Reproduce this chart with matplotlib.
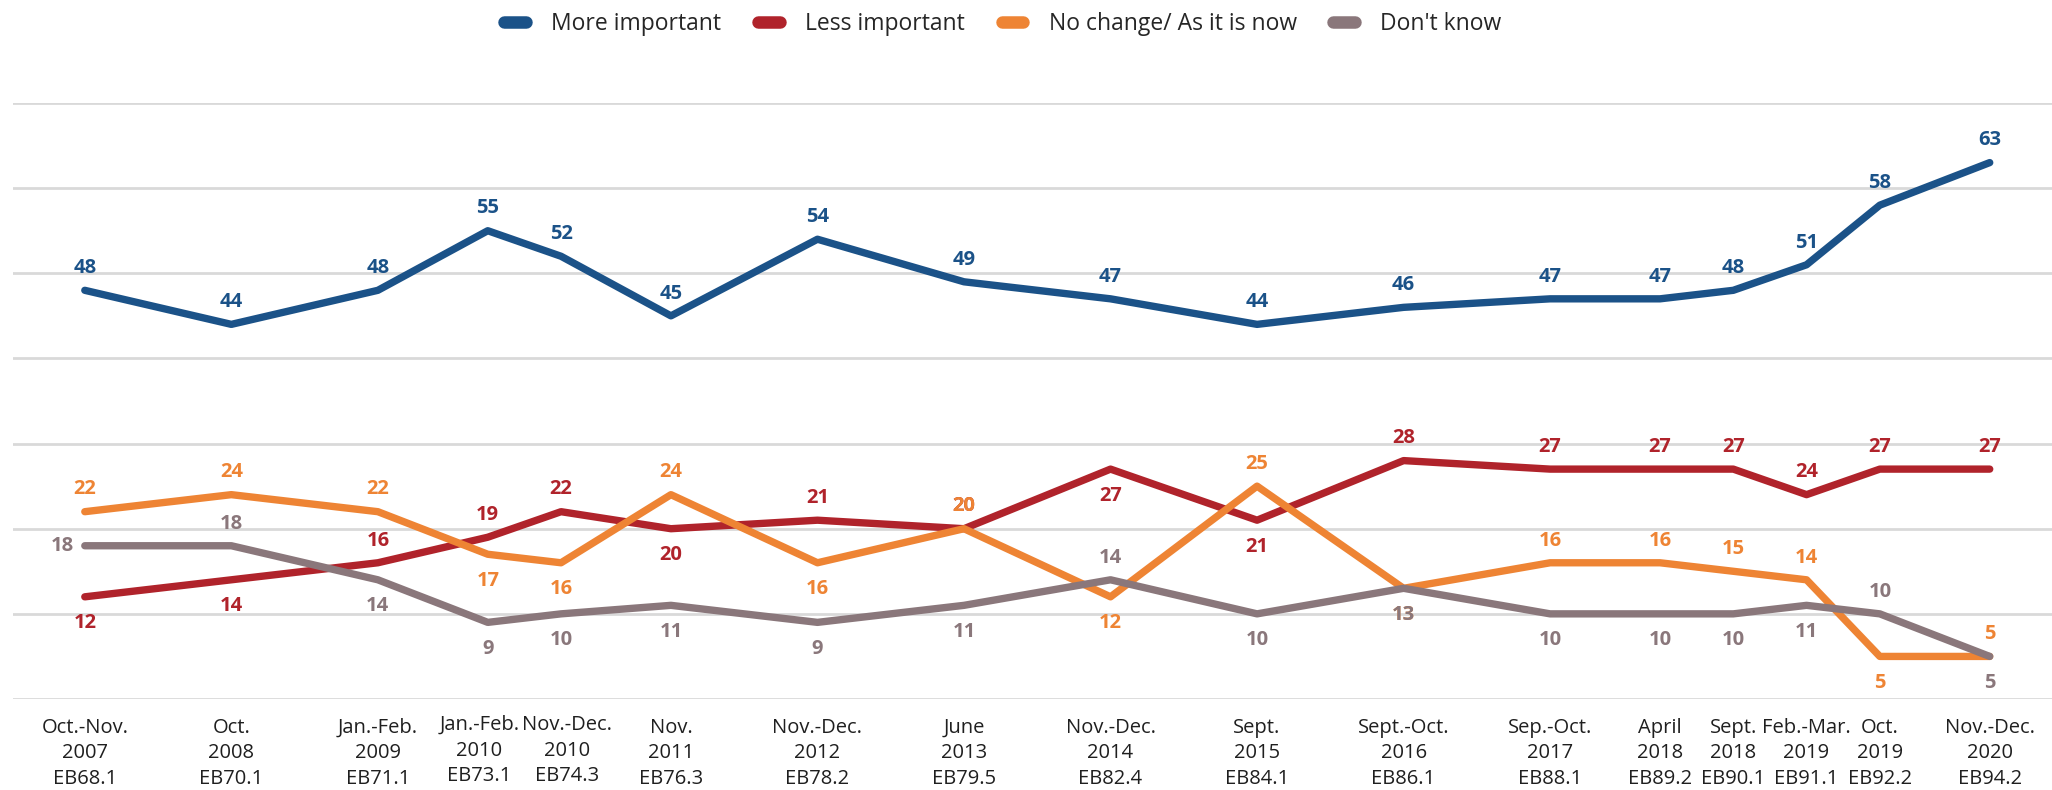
import matplotlib
matplotlib.use("Agg")
import matplotlib.pyplot as plt
import matplotlib.transforms as mtransforms
from matplotlib.lines import Line2D

plt.rcParams['font.family'] = ['Open Sans', 'DejaVu Sans']

# survey waves (x positions follow the spacing of the original chart)
waves = ["Oct.-Nov.\n2007\nEB68.1", "Oct.\n2008\nEB70.1", "Jan.-Feb.\n2009\nEB71.1",
         "Jan.-Feb.\n2010\nEB73.1", "Nov.-Dec.\n2010\nEB74.3", "Nov.\n2011\nEB76.3",
         "Nov.-Dec.\n2012\nEB78.2", "June\n2013\nEB79.5", "Nov.-Dec.\n2014\nEB82.4",
         "Sept.\n2015\nEB84.1", "Sept.-Oct.\n2016\nEB86.1", "Sep.-Oct.\n2017\nEB88.1",
         "April\n2018\nEB89.2", "Sept.\n2018\nEB90.1", "Feb.-Mar.\n2019\nEB91.1",
         "Oct.\n2019\nEB92.2", "Nov.-Dec.\n2020\nEB94.2"]
x_pos = [0, 4, 8, 11, 13, 16, 20, 24, 28, 32, 36, 40, 43, 45, 47, 49, 52]

more_important = [48, 44, 48, 55, 52, 45, 54, 49, 47, 44, 46, 47, 47, 48, 51, 58, 63]
less_important = [12, 14, 16, 19, 22, 20, 21, 20, 27, 21, 28, 27, 27, 27, 24, 27, 27]
no_change = [22, 24, 22, 17, 16, 24, 16, 20, 12, 25, 13, 16, 16, 15, 14, 5, 5]
dont_know = [18, 18, 14, 9, 10, 11, 9, 11, 14, 10, 13, 10, 10, 10, 11, 10, 5]

series_names = ["More important", "Less important", "No change/ As it is now", "Don't know"]
series_values = [more_important, less_important, no_change, dont_know]
colors = ['#1B5288', '#B0232B', '#EE8434', '#8A777B']

# where the value label sits: a = above, b = below, l = left
label_side = [
    "aaaaaaaaaaaaaaaaa",
    "bbaaabaabbaaaaaaa",
    "aaabbabababaaaaba",
    "labbbbbbabbbbbbab",
]

fig = plt.figure(figsize=(20.52, 7.9), dpi=100)
ax = fig.add_axes([13 / 2052, (790 - 699) / 790, 1 - 13 / 2052, (699 - 103) / 790])

ax.set_ylim(0, 70)
ax.set_xlim(-1.96, 53.7)
ax.set_yticks(range(0, 71, 10))
ax.yaxis.grid(True, color='#D9D9D9', linewidth=2)
ax.set_axisbelow(True)
for s in ax.spines.values():
    s.set_visible(False)
ax.tick_params(left=False, labelleft=False, bottom=False)
ax.set_xticks(x_pos)
ax.set_xticklabels(waves, fontsize=14.5, color='#1F1F1F', linespacing=1.37)
ax.tick_params(axis='x', pad=10)

# the two 2010 labels are pushed apart a little, as in the original
for i, (dx, dy) in {3: (-6, 2), 4: (4.5, 2)}.items():
    lab = ax.get_xticklabels()[i]
    lab.set_transform(lab.get_transform() + mtransforms.ScaledTranslation(dx / 72, dy / 72, fig.dpi_scale_trans))

offsets = {'a': (0, 16), 'b': (0, -19), 'l': (-16, 0)}
for name, vals, col, sides in zip(series_names, series_values, colors, label_side):
    ax.plot(x_pos, vals, color=col, linewidth=5.3, solid_capstyle='round',
            solid_joinstyle='round', clip_on=False)
    for x, v, sd in zip(x_pos, vals, sides):
        ax.annotate(str(v), (x, v), xytext=offsets[sd], textcoords='offset points',
                    ha='center', va='center', fontsize=14.5, fontweight='bold', color=col)

handles = [Line2D([0], [0], color=c, linewidth=9, solid_capstyle='round') for c in colors]
fig.legend(handles, series_names, loc='center', bbox_to_anchor=(1003 / 2052, 1 - 24 / 790),
           ncol=4, frameon=False, fontsize=16.5, handlelength=0.95, handletextpad=1.1,
           columnspacing=1.6, labelcolor='#262626')

plt.savefig('out.png', dpi=100)
